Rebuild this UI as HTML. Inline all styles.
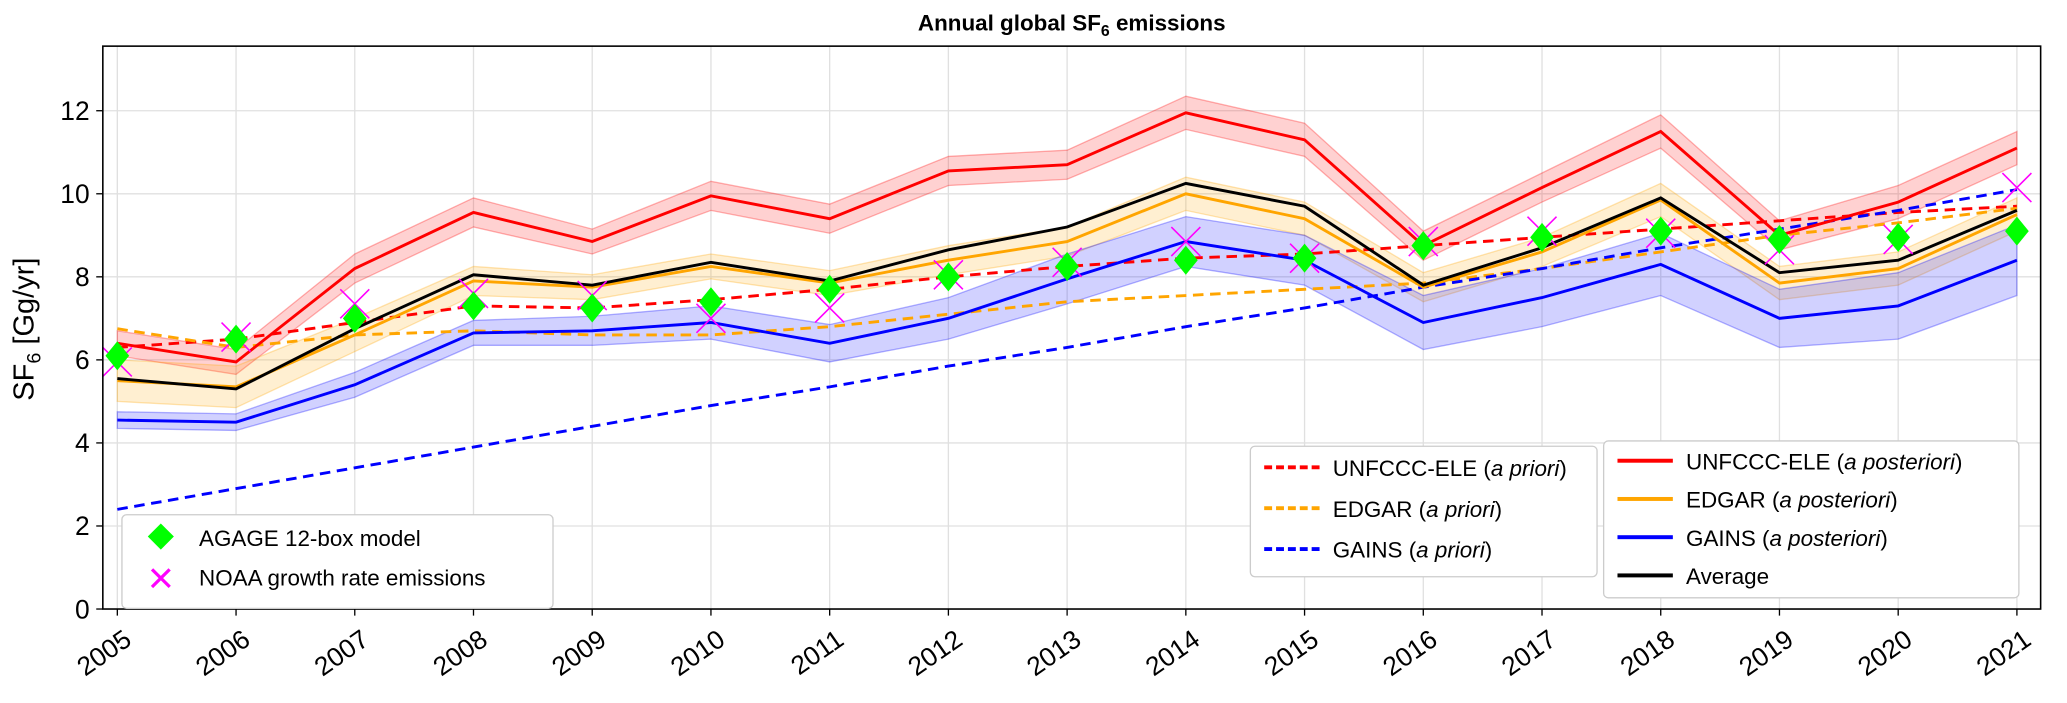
<!DOCTYPE html>
<html><head><meta charset="utf-8"><style>
body{margin:0;background:#fff;font-family:"Liberation Sans","DejaVu Sans",sans-serif;overflow:hidden}
#wrap{position:absolute;left:0;top:0;width:1568px;height:533px;transform:scale(1.31824);transform-origin:0 0}
</style></head><body>
<div id="wrap">
<svg id="c" width="1568" height="533" xmlns="http://www.w3.org/2000/svg" style="position:absolute;left:0;top:0"></svg>
<div style="position:absolute;left:0;width:1626px;top:8px;text-align:center;font-weight:bold;font-size:17px">Annual global SF<sub style="font-size:12px">6</sub> emissions</div>
<div style="position:absolute;left:-60px;top:235px;width:160px;text-align:center;font-size:22px;transform:rotate(-90deg)">SF<sub style="font-size:15px">6</sub> [Gg/yr]</div>
<div style="position:absolute;left:92px;top:390px;width:326px;height:64px;border:1px solid #ccc;border-radius:4px;background:#fff;font-size:17px;line-height:30px;padding:3px 0">
<div><span style="display:inline-block;width:14px;height:14px;background:#0f0;transform:rotate(45deg);margin:0 22px 0 22px"></span>AGAGE 12-box model</div>
<div><span style="display:inline-block;width:58px;text-align:center;color:#f0f;font-size:34px;vertical-align:-6px;font-weight:100">×</span>NOAA growth rate emissions</div></div>
<div style="position:absolute;left:948px;top:338px;width:262px;height:96px;border:1px solid #ccc;border-radius:4px;background:#fff;font-size:17px;line-height:31px;padding:1px 0">
<div><span style="display:inline-block;width:42px;border-top:3px dashed #f00;margin:0 10px 5px 10px"></span>UNFCCC-ELE (<i>a priori</i>)</div>
<div><span style="display:inline-block;width:42px;border-top:3px dashed #ffa500;margin:0 10px 5px 10px"></span>EDGAR (<i>a priori</i>)</div>
<div><span style="display:inline-block;width:42px;border-top:3px dashed #00f;margin:0 10px 5px 10px"></span>GAINS (<i>a priori</i>)</div></div>
<div style="position:absolute;left:1216px;top:334px;width:314px;height:116px;border:1px solid #ccc;border-radius:4px;background:#fff;font-size:17px;line-height:29px;padding:1px 0">
<div><span style="display:inline-block;width:42px;border-top:3px solid #f00;margin:0 10px 5px 10px"></span>UNFCCC-ELE (<i>a posteriori</i>)</div>
<div><span style="display:inline-block;width:42px;border-top:3px solid #ffa500;margin:0 10px 5px 10px"></span>EDGAR (<i>a posteriori</i>)</div>
<div><span style="display:inline-block;width:42px;border-top:3px solid #00f;margin:0 10px 5px 10px"></span>GAINS (<i>a posteriori</i>)</div>
<div><span style="display:inline-block;width:42px;border-top:3px solid #000;margin:0 10px 5px 10px"></span>Average</div></div>
</div>
<script>
const years=[2005,2006,2007,2008,2009,2010,2011,2012,2013,2014,2015,2016,2017,2018,2019,2020,2021];
const yTicks=[0,2,4,6,8,10,12];
const unfcccPost=[6.4,5.95,8.2,9.55,8.85,9.95,9.4,10.55,10.7,11.95,11.3,8.75,10.15,11.5,9.0,9.8,11.1];
const unfcccUnc=[0.3,0.3,0.35,0.35,0.3,0.35,0.35,0.35,0.35,0.4,0.4,0.35,0.35,0.4,0.35,0.4,0.4];
const edgarPost=[5.5,5.35,6.6,7.9,7.75,8.25,7.85,8.4,8.85,10.0,9.4,7.75,8.6,9.85,7.85,8.2,9.5];
const edgarUnc=[0.5,0.5,0.4,0.35,0.3,0.3,0.3,0.35,0.35,0.4,0.4,0.35,0.35,0.4,0.4,0.4,0.4];
const gainsPost=[4.55,4.5,5.4,6.65,6.7,6.9,6.4,7.0,7.95,8.85,8.4,6.9,7.5,8.3,7.0,7.3,8.4];
const gainsUnc=[0.2,0.2,0.3,0.3,0.35,0.4,0.45,0.5,0.6,0.6,0.6,0.65,0.7,0.75,0.7,0.8,0.85];
const average=[5.55,5.3,6.75,8.05,7.8,8.35,7.9,8.65,9.2,10.25,9.7,7.8,8.7,9.9,8.1,8.4,9.6];
const unfcccPrior=[6.3,6.5,6.9,7.3,7.25,7.45,7.7,8.0,8.25,8.45,8.55,8.75,8.95,9.15,9.35,9.55,9.7];
const edgarPrior=[6.75,6.3,6.6,6.7,6.6,6.6,6.8,7.1,7.4,7.55,7.7,7.85,8.2,8.6,9.0,9.3,9.65];
const gainsPrior=[2.4,2.9,3.4,3.9,4.4,4.9,5.35,5.85,6.3,6.8,7.25,7.75,8.2,8.7,9.15,9.6,10.1];
const agage=[6.1,6.5,7.0,7.3,7.25,7.4,7.7,8.0,8.25,8.4,8.45,8.75,8.95,9.1,8.9,8.95,9.1];
const noaa=[5.95,6.55,7.35,7.6,7.55,7.0,7.25,8.05,8.35,8.85,8.45,8.85,9.1,9.05,8.65,8.9,10.15];

const NS="http://www.w3.org/2000/svg",svg=document.getElementById('c');
const L=78,R=1548,T=35,B=462;
const X=y=>89+(y-2005)*(1530-89)/16;
const Y=v=>462-v*31.5;
function el(t,a,p){const e=document.createElementNS(NS,t);for(const k in a)e.setAttribute(k,a[k]);(p||svg).appendChild(e);return e;}
yTicks.forEach(v=>{const g=el('line',{x1:L,x2:R,y1:Y(v),y2:Y(v),stroke:'#e0e0e0','stroke-width':1});

const t=el('text',{x:L-10,y:Y(v)+7,'text-anchor':'end','font-size':20,fill:'#000'});t.textContent=v;

el('line',{x1:L-5,x2:L,y1:Y(v),y2:Y(v),stroke:'#000'});});
years.forEach(yr=>{const g=el('line',{x1:X(yr),x2:X(yr),y1:T,y2:B,stroke:'#e0e0e0'});

el('line',{x1:X(yr),x2:X(yr),y1:B,y2:B+5,stroke:'#000'});
const t=el('text',{x:X(yr)+12,y:B+26,'text-anchor':'end','font-size':20,transform:`rotate(-35 ${X(yr)+12} ${B+26})`});t.textContent=yr;
});
function band(m,u,c,name){const up=years.map((y,i)=>X(y)+','+Y(m[i]+u[i]));const dn=years.map((y,i)=>X(y)+','+Y(m[i]-u[i])).reverse();
const p=el('polygon',{points:up.concat(dn).join(' '),fill:c,'fill-opacity':0.18,stroke:c,'stroke-opacity':0.3});
}
function line(m,c,dash,name){const p=el('polyline',{points:years.map((y,i)=>X(y)+','+Y(m[i])).join(' '),fill:'none',stroke:c,'stroke-width':2.2,'stroke-dasharray':dash||'none'});
}
band(unfcccPost,unfcccUnc,'#ff0000','unfccc-band');band(edgarPost,edgarUnc,'#ffa500','edgar-band');band(gainsPost,gainsUnc,'#0000ff','gains-band');
line(unfcccPrior,'#ff0000','8,5','unfccc-prior-line');line(edgarPrior,'#ffa500','8,5','edgar-prior-line');line(gainsPrior,'#0000ff','8,5','gains-prior-line');
line(unfcccPost,'#ff0000','','unfccc-posterior-line');line(edgarPost,'#ffa500','','edgar-posterior-line');line(gainsPost,'#0000ff','','gains-posterior-line');line(average,'#000','','average-line');
years.forEach((yr,i)=>{const x=X(yr),y=Y(noaa[i]);
const g=el('path',{d:`M${x-11} ${y-11}L${x+11} ${y+11}M${x-11} ${y+11}L${x+11} ${y-11}`,stroke:'#ff00ff','stroke-width':1.2});

const a=el('path',{d:`M${x} ${Y(agage[i])-11}L${x+9} ${Y(agage[i])}L${x} ${Y(agage[i])+11}L${x-9} ${Y(agage[i])}Z`,fill:'#00ff00'});
});
el('rect',{x:L,y:T,width:R-L,height:B-T,fill:'none',stroke:'#000','stroke-width':1.2});
</script>
</body></html>
